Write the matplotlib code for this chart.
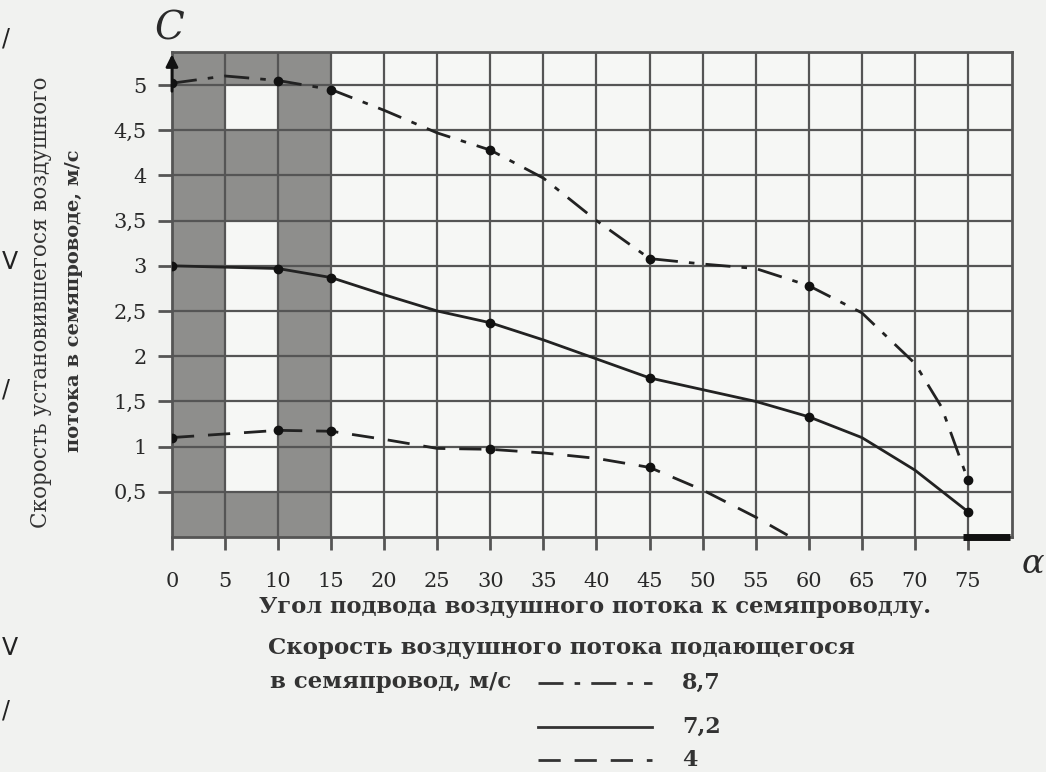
import numpy as np
import matplotlib.pyplot as plt
from matplotlib.patches import Rectangle

plt.rcParams['font.family'] = ['DejaVu Serif', 'Liberation Serif']

# данные
x_87 = [0, 5, 10, 15, 20, 25, 30, 35, 40, 45, 50, 55, 60, 65, 70, 72.5, 75]
y_87 = [5.02, 5.1, 5.05, 4.95, 4.72, 4.47, 4.28, 3.97, 3.5, 3.08, 3.02, 2.97, 2.78, 2.48, 1.92, 1.44, 0.63]
mk_87 = [0, 2, 3, 6, 9, 12, 16]

x_72 = [0, 10, 15, 20, 25, 30, 35, 40, 45, 50, 55, 60, 65, 70, 75]
y_72 = [3.0, 2.97, 2.87, 2.68, 2.5, 2.37, 2.18, 1.97, 1.76, 1.63, 1.5, 1.33, 1.1, 0.74, 0.28]
mk_72 = [0, 1, 2, 5, 8, 11, 14]

x_4 = [0, 10, 15, 20, 25, 30, 35, 40, 45, 50, 55, 58]
y_4 = [1.1, 1.18, 1.17, 1.08, 0.98, 0.97, 0.93, 0.87, 0.77, 0.52, 0.22, 0.02]
mk_4 = [0, 1, 2, 5, 8]

x_ticks = list(range(0, 80, 5))
y_ticks = [0.5, 1, 1.5, 2, 2.5, 3, 3.5, 4, 4.5, 5]
y_labels = ['0,5', '1', '1,5', '2', '2,5', '3', '3,5', '4', '4,5', '5']

# серые клетки: (x0, x1, y0, y1)
gray_cells = [(0, 5, 0, 5.37), (10, 15, 0, 5.37),
              (5, 10, 5, 5.37), (5, 10, 3.5, 4.5), (5, 10, 0, 0.5)]

bg = '#f1f2f0'
grid_c = '#555555'
txt_c = '#2a2a2a'

fig = plt.figure(figsize=(10.46, 7.72), dpi=100, facecolor=bg)
ax = fig.add_axes([0.1644, 0.3044, 0.8031, 0.6282], facecolor='#f6f7f5')
ax.set_xlim(0, 79.15)
ax.set_ylim(0, 5.365)

for x0, x1, y0, y1 in gray_cells:
    ax.add_patch(Rectangle((x0, y0), x1 - x0, y1 - y0, color='#8e8e8c', lw=0, zorder=0))

for xv in x_ticks[1:]:
    ax.axvline(xv, color=grid_c, lw=1.6, zorder=1)
for yv in y_ticks:
    ax.axhline(yv, color=grid_c, lw=1.6, zorder=1)
for s in ax.spines.values():
    s.set_color(grid_c)
    s.set_linewidth(2)

ax.plot(x_87, y_87, color='#222222', lw=2, ls=(0, (9, 4, 2, 4)), zorder=3)
ax.plot([x_87[i] for i in mk_87], [y_87[i] for i in mk_87], 'o', color='#111111', ms=6, zorder=4)
ax.plot(x_72, y_72, color='#222222', lw=2, ls='-', zorder=3)
ax.plot([x_72[i] for i in mk_72], [y_72[i] for i in mk_72], 'o', color='#111111', ms=6, zorder=4)
ax.plot(x_4, y_4, color='#222222', lw=2, ls=(0, (8, 5)), zorder=3)
ax.plot([x_4[i] for i in mk_4], [y_4[i] for i in mk_4], 'o', color='#111111', ms=6, zorder=4)

ax.set_xticks(x_ticks)
ax.set_xticklabels([str(v) for v in x_ticks], fontsize=15, color=txt_c)
ax.set_yticks(y_ticks)
ax.set_yticklabels(y_labels, fontsize=15, color=txt_c)
ax.tick_params(axis='x', length=9, width=2, color=grid_c, pad=16)
ax.tick_params(axis='y', length=10, width=2, color=grid_c, pad=8)

# стрелки осей
ax.annotate('', xy=(0, 5.37), xytext=(0, 4.9), xycoords='data',
            arrowprops=dict(arrowstyle='-|>', color='#111111', lw=2, mutation_scale=18),
            annotation_clip=False, zorder=5)
ax.plot([74.5, 79], [0, 0], color='#111111', lw=5, solid_capstyle='butt', zorder=5, clip_on=False)

fig.text(0.162, 0.962, 'C', fontsize=28, style='italic', ha='center', va='center', color=txt_c)
fig.text(0.987, 0.27, 'α', fontsize=24, style='italic', ha='center', va='center', color=txt_c)

fig.text(0.039, 0.608, 'Скорость установившегося воздушного', rotation=90, fontsize=15.5,
         ha='center', va='center', color='#333333')
fig.text(0.071, 0.611, 'потока в семяпроводе, м/с', rotation=90, fontsize=14,
         fontweight='bold', ha='center', va='center', color='#333333')

fig.text(0.569, 0.214, 'Угол подвода воздушного потока к семяпроводлу.', fontsize=16.3,
         fontweight='bold', ha='center', va='center', color='#333333')
fig.text(0.256, 0.16, 'Скорость воздушного потока подающегося', fontsize=16.5,
         fontweight='bold', ha='left', va='center', color='#333333')
fig.text(0.258, 0.116, 'в семяпровод, м/с', fontsize=16.5,
         fontweight='bold', ha='left', va='center', color='#333333')

leg_styles = [(0, (9, 4, 2, 4)), '-', (0, (8, 5))]
leg_labels = ['8,7', '7,2', '4']
leg_y = [0.115, 0.058, 0.015]
for st, lab, yy in zip(leg_styles, leg_labels, leg_y):
    fig.add_artist(plt.Line2D([0.514, 0.623], [yy, yy], color='#333333', lw=2, ls=st))
    fig.text(0.652, yy, lab, fontsize=16, fontweight='bold', ha='left', va='center', color='#333333')

# отметки на полях скана
for yy, ch in [(0.95, '/'), (0.66, 'V'), (0.495, '/'), (0.16, 'V'), (0.08, '/')]:
    fig.text(0.002, yy, ch, fontsize=17, color='#222222', ha='left', va='center',
             family='DejaVu Sans')

fig.savefig('out.png', dpi=100, facecolor=bg)
